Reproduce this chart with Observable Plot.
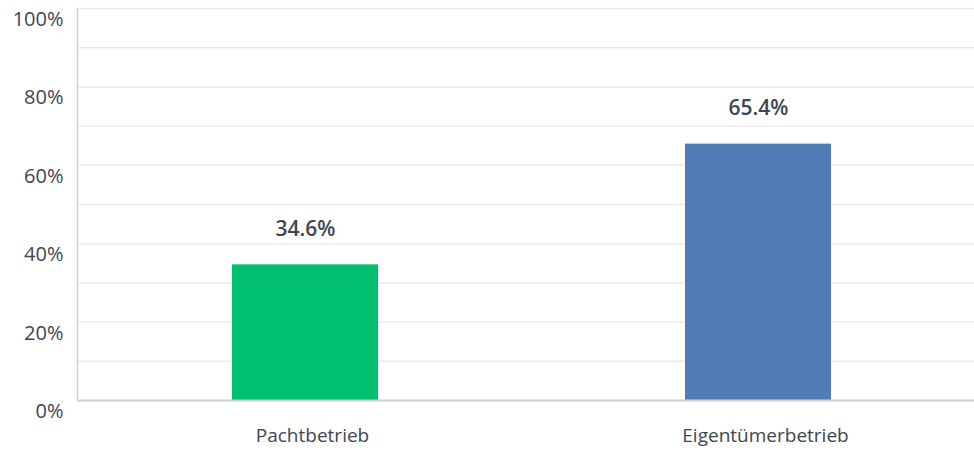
<!DOCTYPE html>
<html><head><meta charset="utf-8">
<script src="https://cdn.jsdelivr.net/npm/d3@7"></script>
<script src="https://cdn.jsdelivr.net/npm/@observablehq/plot@0.6"></script>
<style>body{margin:0;background:#fff;} svg{overflow:visible}</style>
</head><body><div id="chart"></div>
<script>
const categories = ["Pachtbetrieb", "Eigentümerbetrieb"];
const values = [34.6, 65.4];
const colors = ["#00bf6f", "#507cb6"];
const gridTicks = [0,10,20,30,40,50,60,70,80,90,100];
const labelTicks = [0,20,40,60,80,100];

const data = categories.map((c,i)=>({cat:c, value:values[i], color:colors[i]}));
const textColor = "#3e4651";
const font = "'Open Sans', sans-serif";

const chart = Plot.plot({
  width: 974, height: 451,
  marginLeft: 77, marginRight: 0, marginTop: 8, marginBottom: 51,
  style: {fontFamily: font, background: "#fff", overflow: "visible"},
  x: {domain: categories, range: [78, 984], paddingInner: 0.678, paddingOuter: 0.339, label: null},
  y: {domain: [0,100], label: null},
  marks: [
    Plot.ruleY(gridTicks.filter(d=>d>0), {stroke:"#ebebeb", strokeWidth:1.5}),
    Plot.barY(data, {x:"cat", y:"value", fill:"color"}),
    Plot.frame({anchor:"left", stroke:"#d0d0d0", strokeWidth:1.5}),
    Plot.ruleY([0], {stroke:"#cfcfcf", strokeWidth:2}),
    Plot.axisY({ticks: labelTicks, tickSize:0, tickPadding:14, dy:11, tickFormat: d=>d+"%", fontSize:20, fill:textColor, label:null, style:{letterSpacing:"0.3px"}}),
    Plot.axisX({tickSize:0, tickPadding:28, dx:7, fontSize:19, fill:textColor, label:null, style:{letterSpacing:"1px"}}),
    Plot.text(data, {x:"cat", y:"value", text: d=>d.value.toFixed(1)+"%", dy:-36, fontSize:21, fontWeight:600, fill:textColor, style:{letterSpacing:"0.4px"}})
  ]
});
document.getElementById("chart").appendChild(chart);
</script></body></html>
